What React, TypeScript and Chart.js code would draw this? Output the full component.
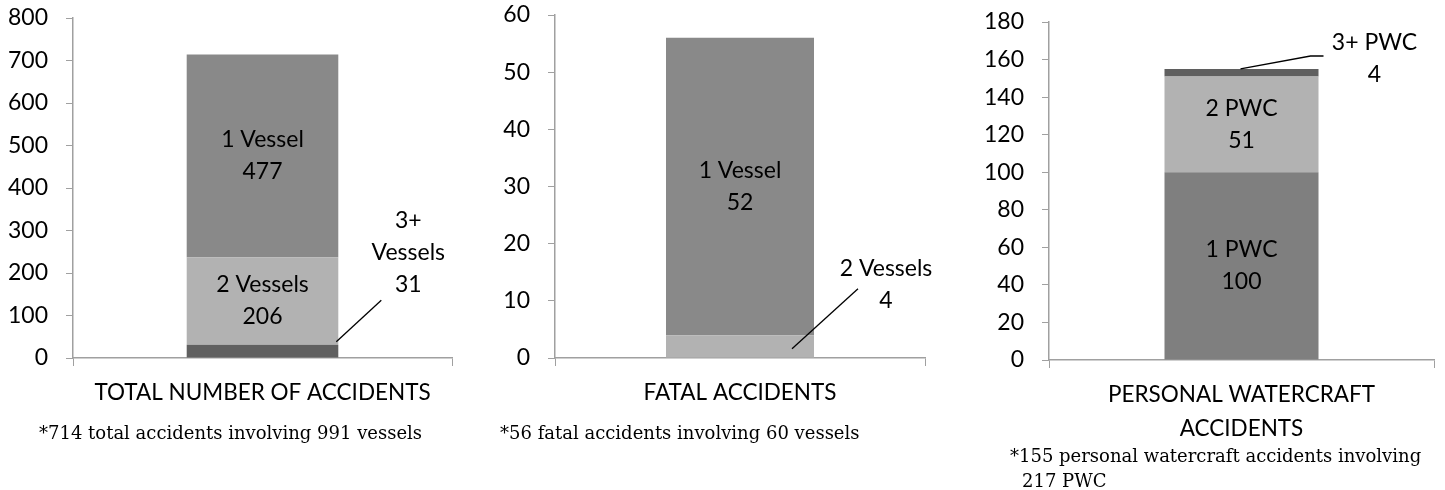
import React, { useEffect, useRef } from 'react';
import { Chart, registerables } from 'chart.js';

Chart.register(...registerables);

const FONT = 'Lato';

// ---- Chart 1: total number of accidents ----
const totalCategories = ['TOTAL NUMBER OF ACCIDENTS'];
const totalSeries = [['3+', 'Vessels'], ['2 Vessels'], ['1 Vessel']];
const totalValues = [31, 206, 477];
const totalColors = ['#606060', '#b2b2b2', '#898989'];
const totalAxis = [0, 800, 100];
const totalNote = ['*714 total accidents involving 991 vessels'];

// ---- Chart 2: fatal accidents ----
const fatalCategories = ['FATAL ACCIDENTS'];
const fatalSeries = [['2 Vessels'], ['1 Vessel']];
const fatalValues = [4, 52];
const fatalColors = ['#b2b2b2', '#898989'];
const fatalAxis = [0, 60, 10];
const fatalNote = ['*56 fatal accidents involving 60 vessels'];

// ---- Chart 3: personal watercraft accidents ----
const pwcCategories = [['PERSONAL WATERCRAFT', 'ACCIDENTS']];
const pwcSeries = [['1 PWC'], ['2 PWC'], ['3+ PWC']];
const pwcValues = [100, 51, 4];
const pwcColors = ['#7f7f7f', '#b2b2b2', '#5f5f5f'];
const pwcAxis = [0, 180, 20];
const pwcNote = ['*155 personal watercraft accidents involving', '217 PWC'];

const AXIS_COLOR = '#a0a0a0';

const segLabels = {
  id: 'segLabels',
  afterDatasetsDraw(chart: any, _args: any, opts: any) {
    const ctx = chart.ctx;
    const yScale = chart.scales.y;
    const callouts = (opts && opts.callouts) || {};
    ctx.save();
    ctx.font = `23px ${FONT}`;
    ctx.fillStyle = '#000';
    ctx.textAlign = 'center';
    ctx.textBaseline = 'middle';
    const lh = 32;
    chart.data.datasets.forEach((ds: any, i: number) => {
      const el = chart.getDatasetMeta(i).data[0];
      if (!el) return;
      const lines: string[] = [...ds.nameLines, String(ds.data[0])];
      const co = callouts[i];
      if (!co) {
        const cy = (el.y + el.base) / 2;
        lines.forEach((t, k) => ctx.fillText(t, el.x, cy + (k - (lines.length - 1) / 2) * lh));
      } else {
        const right = el.x + el.width / 2;
        const cx = right + co.dx;
        const cy = yScale.getPixelForValue(co.value);
        lines.forEach((t, k) => ctx.fillText(t, cx, cy + (k - (lines.length - 1) / 2) * lh));
        ctx.beginPath();
        co.path.forEach((p: number[], k: number) => {
          const px = right + p[0];
          const py = yScale.getPixelForValue(p[1]);
          if (k === 0) ctx.moveTo(px, py);
          else ctx.lineTo(px, py);
        });
        ctx.strokeStyle = '#000';
        ctx.lineWidth = 1.3;
        ctx.stroke();
      }
    });
    ctx.restore();
  },
};

type PanelProps = {
  left: number;
  width: number;
  top: number;
  bottom: number;
  yWidth: number;
  right: number;
  categories: any[];
  series: string[][];
  values: number[];
  colors: string[];
  axis: number[];
  callouts: any;
};

function Panel(p: PanelProps) {
  const ref = useRef<HTMLCanvasElement>(null);
  useEffect(() => {
    if (!ref.current) return;
    const H = 490;
    const xAxisH = 100;
    const chart = new Chart(ref.current, {
      type: 'bar',
      data: {
        labels: p.categories,
        datasets: p.series.map((name, i) => ({
          label: name.join(' '),
          nameLines: name,
          data: [p.values[i]],
          backgroundColor: p.colors[i],
          borderWidth: 0,
          barPercentage: 0.4,
          categoryPercentage: 1,
        })) as any,
      },
      options: {
        animation: false,
        responsive: false,
        maintainAspectRatio: false,
        layout: {
          padding: { left: 0, top: p.top, right: p.right, bottom: H - p.bottom - xAxisH },
        },
        plugins: {
          legend: { display: false },
          tooltip: { enabled: false },
          segLabels: { callouts: p.callouts },
        } as any,
        scales: {
          x: {
            stacked: true,
            afterFit: (s: any) => {
              s.height = xAxisH;
              s.paddingLeft = 0;
              s.paddingRight = 0;
            },
            grid: {
              display: true,
              drawOnChartArea: false,
              drawTicks: true,
              tickLength: 8,
              color: AXIS_COLOR,
              offset: true,
            },
            border: { display: true, color: AXIS_COLOR, width: 1.5 },
            ticks: {
              color: '#000',
              font: { family: FONT, size: 22.5, lineHeight: 1.5 },
              padding: 10,
              maxRotation: 0,
              autoSkip: false,
            },
          },
          y: {
            stacked: true,
            min: p.axis[0],
            max: p.axis[1],
            afterFit: (s: any) => {
              s.width = p.yWidth;
              s.paddingTop = 0;
              s.paddingBottom = 0;
            },
            grid: {
              display: true,
              drawOnChartArea: false,
              drawTicks: true,
              tickLength: 7,
              color: AXIS_COLOR,
            },
            border: { display: true, color: AXIS_COLOR, width: 1.5 },
            ticks: {
              stepSize: p.axis[2],
              color: '#000',
              font: { family: FONT, size: 23 },
              padding: 18,
            },
          },
        },
      },
      plugins: [segLabels],
    });
    return () => chart.destroy();
  }, []);
  return (
    <canvas
      ref={ref}
      width={p.width}
      height={490}
      style={{ position: 'absolute', left: p.left, top: 0, width: p.width, height: 490 }}
    />
  );
}

const noteStyle: React.CSSProperties = {
  position: 'absolute',
  fontFamily: "'DejaVu Serif', serif",
  fontSize: '18px',
  lineHeight: '25px',
  color: '#000',
  whiteSpace: 'nowrap',
};

export default function App() {
  return (
    <div style={{ position: 'absolute', left: 0, top: 0, width: 1445, height: 490, background: '#fff', overflow: 'hidden' }}>
      <Panel
        left={0}
        width={475}
        top={18}
        bottom={358}
        yWidth={73}
        right={23}
        categories={totalCategories}
        series={totalSeries}
        values={totalValues}
        colors={totalColors}
        axis={totalAxis}
        callouts={{ 0: { dx: 70, value: 249, path: [[43, 136], [-2, 38]] } }}
      />
      <Panel
        left={480}
        width={480}
        top={15}
        bottom={358}
        yWidth={75}
        right={35}
        categories={fatalCategories}
        series={fatalSeries}
        values={fatalValues}
        colors={fatalColors}
        axis={fatalAxis}
        callouts={{ 0: { dx: 72, value: 12.9, path: [[44, 12.1], [-22, 1.6]] } }}
      />
      <Panel
        left={960}
        width={485}
        top={22}
        bottom={360}
        yWidth={89}
        right={11}
        categories={pwcCategories}
        series={pwcSeries}
        values={pwcValues}
        colors={pwcColors}
        axis={pwcAxis}
        callouts={{ 2: { dx: 56, value: 160.3, path: [[5, 161.9], [-8, 161.9], [-78, 155]] } }}
      />
      <div style={{ ...noteStyle, left: 39, top: 420 }}>{totalNote[0]}</div>
      <div style={{ ...noteStyle, left: 500, top: 420 }}>{fatalNote[0]}</div>
      <div style={{ ...noteStyle, left: 1010, top: 443 }}>
        <div>{pwcNote[0]}</div>
        <div style={{ paddingLeft: 12 }}>{pwcNote[1]}</div>
      </div>
    </div>
  );
}
